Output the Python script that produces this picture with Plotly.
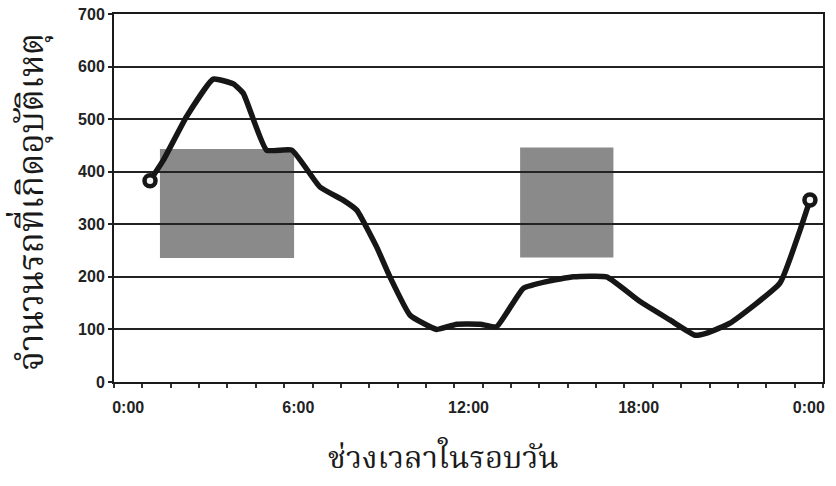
import plotly.graph_objects as go

# Data (hour of day, accidents)
hours = [0.77, 1.24, 2.06, 3.0, 3.71, 4.06, 4.88, 5.77, 6.76, 7.58, 8.06, 8.76, 9.23,
         9.94, 10.88, 11.58, 12.41, 12.99, 13.93, 14.76, 15.7, 16.87, 18.05, 19.1,
         19.99, 20.4, 21.22, 22.98, 23.69, 24.04]
accidents = [383, 422, 505, 576, 567, 549, 441, 441, 371, 346, 327, 257, 200,
             127, 100, 110, 110, 105, 178, 191, 200, 200, 153, 118,
             89, 93, 112, 188, 289, 346]

tick_hours = [0, 6, 12, 18, 24]
tick_labels = ["0:00", "6:00", "12:00", "18:00", "0:00"]
y_ticks = [0, 100, 200, 300, 400, 500, 600, 700]

# highlighted periods (hour start, hour end, value low, value high)
box_x0 = [1.12, 13.82]
box_x1 = [5.85, 17.11]
box_y0 = [236, 237]
box_y1 = [443, 446]

y_title = "จำนวนรถที่เกิดอุบัติเหตุ"
x_title = "ช่วงเวลาในรอบวัน"

thai_font = "Noto Serif Thai, Noto Sans Thai, Tlwg Typo, serif"
tick_font = dict(family="Liberation Sans", size=16, color="#222222", weight="bold")

fig = go.Figure()
fig.add_trace(go.Scatter(
    x=hours, y=accidents, mode="lines",
    line=dict(color="#161616", width=5.5, shape="spline", smoothing=0.4),
    hoverinfo="skip", showlegend=False))
fig.add_trace(go.Scatter(
    x=[hours[0], hours[-1]], y=[accidents[0], accidents[-1]], mode="markers",
    marker=dict(symbol="circle", size=11, color="#f4f4f4",
                line=dict(color="#161616", width=4.5)),
    hoverinfo="skip", showlegend=False))

for a, b, c, d in zip(box_x0, box_x1, box_y0, box_y1):
    fig.add_shape(type="rect", xref="x", yref="y", x0=a, x1=b, y0=c, y1=d,
                  fillcolor="#8a8a8a", line=dict(width=0), layer="below")

fig.add_annotation(text=y_title, xref="paper", yref="paper", x=0, y=0.5,
                   xanchor="center", yanchor="middle", xshift=-80, yshift=-4,
                   textangle=-90, showarrow=False,
                   font=dict(family=thai_font, size=35, color="#1a1a1a"))
fig.add_annotation(text=x_title, xref="paper", yref="paper", x=0.5, y=0,
                   xanchor="center", yanchor="middle", xshift=-25, yshift=-78,
                   showarrow=False,
                   font=dict(family=thai_font, size=31, color="#1a1a1a"))

fig.update_xaxes(
    range=[-0.5, 24.5], tickvals=tick_hours, ticktext=tick_labels,
    ticks="", showgrid=False, zeroline=False, automargin=False,
    showline=True, linecolor="#1a1a1a", linewidth=2, mirror=True,
    tickfont=tick_font, ticklabelstandoff=10,
    minor=dict(tickmode="linear", tick0=0.5, dtick=1, ticks="outside",
               ticklen=4, tickwidth=2, tickcolor="#333333", showgrid=False),
)
fig.update_yaxes(
    range=[0, 700], tickvals=y_ticks, ticks="outside", ticklen=4, tickwidth=2,
    tickcolor="#222222", showgrid=True, gridcolor="#222222", gridwidth=2,
    zeroline=False, showline=True, linecolor="#1a1a1a", linewidth=2, mirror=True,
    automargin=False, tickfont=tick_font,
)
fig.update_layout(
    width=836, height=486,
    margin=dict(l=114, r=13, t=14, b=104),
    paper_bgcolor="white", plot_bgcolor="white",
)
fig.write_html("out.html", config={"displayModeBar": False},
               post_script="document.body.style.margin='0';")
